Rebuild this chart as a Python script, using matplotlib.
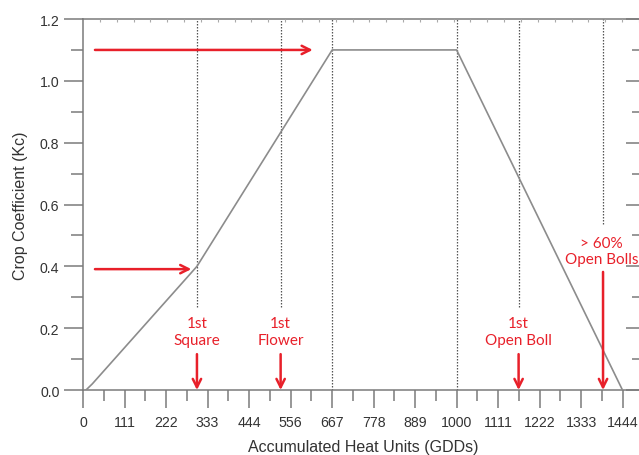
import matplotlib.pyplot as plt
import numpy as np

# Kc curve (GDD vs crop coefficient)
gdd = [8, 25, 305, 667, 1000, 1444]
kc = [0.0, 0.02, 0.4, 1.1, 1.1, 0.0]

# x tick positions and labels
xtick_pos = [i * 1000 / 9 for i in range(14)]
xtick_lab = ["0", "111", "222", "333", "444", "556", "667", "778", "889",
             "1000", "1111", "1222", "1333", "1444"]

# dotted stage lines: x position, lower end
stage_x = [305, 529, 667, 1000, 1166, 1392]
stage_ymin = [0.268, 0.268, 0.0, 0.0, 0.268, 0.537]

# stage labels
labels = ["1st\nSquare", "1st\nFlower", "1st\nOpen Boll", "> 60%\nOpen Bolls"]
label_x = [305, 529, 1166, 1388]
label_y = [0.19, 0.19, 0.19, 0.45]
arrow_x = [305, 529, 1166, 1392]
arrow_top = [0.116, 0.116, 0.116, 0.382]

red = "#e8202a"
axis_col = "#7a7a7a"
text_col = "#333333"

fig = plt.figure(figsize=(6.39, 4.56), dpi=100)
ax = fig.add_axes([0.1299, 0.1425, 0.8717, 0.8136])
ax.set_xlim(0, 1491)
ax.set_ylim(0, 1.2)

ax.plot(gdd, kc, color="#8c8c8c", lw=1.2, zorder=3)

for x, y0 in zip(stage_x, stage_ymin):
    ax.plot([x, x], [y0, 1.2], color="#555555", lw=0.9, linestyle=(0, (1.2, 1.2)), zorder=2)

# horizontal red arrows
ax.annotate("", xy=(615, 1.1), xytext=(32, 1.1),
            arrowprops=dict(arrowstyle="->,head_length=0.6,head_width=0.3", color=red, lw=1.8,
                            shrinkA=0, shrinkB=0))
ax.annotate("", xy=(290, 0.391), xytext=(32, 0.391),
            arrowprops=dict(arrowstyle="->,head_length=0.6,head_width=0.3", color=red, lw=1.8,
                            shrinkA=0, shrinkB=0))

for x, yt in zip(arrow_x, arrow_top):
    ax.annotate("", xy=(x, 0.0), xytext=(x, yt),
                arrowprops=dict(arrowstyle="->,head_length=0.6,head_width=0.3", color=red, lw=1.8,
                                shrinkA=0, shrinkB=0), zorder=4)

for t, x, y in zip(labels, label_x, label_y):
    ax.text(x, y, t, color=red, ha="center", va="center", fontsize=11,
            family="Lato", linespacing=1.25)

# spines and ticks
for s in ["left", "bottom", "top"]:
    ax.spines[s].set_color(axis_col)
    ax.spines[s].set_linewidth(1.1)
ax.spines["right"].set_visible(False)

ax.set_xticks(xtick_pos)
ax.set_xticklabels(xtick_lab)
ax.set_xticks([p + 500 / 9 for p in xtick_pos[:-1]], minor=True)
ax.set_yticks(np.arange(0, 1.21, 0.2))
ax.set_yticklabels(["0.0", "0.2", "0.4", "0.6", "0.8", "1.0", "1.2"])
ax.set_yticks(np.arange(0.1, 1.2, 0.2), minor=True)

ax.tick_params(axis="x", which="major", direction="out", length=13, width=1.1,
               color=axis_col, pad=5, labelsize=10.2, labelcolor=text_col)
ax.tick_params(axis="x", which="minor", direction="out", length=8, width=1.1, color=axis_col)
ax.tick_params(axis="y", which="major", direction="out", length=14, width=1.1,
               color=axis_col, pad=3, labelsize=10.2, labelcolor=text_col)
ax.tick_params(axis="y", which="minor", direction="out", length=9, width=1.1, color=axis_col)
for lab in ax.get_xticklabels() + ax.get_yticklabels():
    lab.set_family("Liberation Sans")

# right side inward ticks
ax_r = ax.twinx()
ax_r.set_ylim(0, 1.2)
for s in ax_r.spines.values():
    s.set_visible(False)
ax_r.set_yticks(np.arange(0, 1.21, 0.2))
ax_r.set_yticks(np.arange(0.1, 1.2, 0.2), minor=True)
ax_r.set_yticklabels([])
ax_r.tick_params(axis="y", which="major", direction="in", length=10, width=1.1, color=axis_col)
ax_r.tick_params(axis="y", which="minor", direction="in", length=6, width=1.1, color=axis_col)

# tiny ticks on top
ax_t = ax.twiny()
ax_t.set_xlim(0, 1491)
for s in ax_t.spines.values():
    s.set_visible(False)
ax_t.set_xticks(np.arange(45, 1491, 45.1))
ax_t.set_xticklabels([])
ax_t.tick_params(axis="x", direction="in", length=2, width=0.8, color="#aaaaaa")

ax.set_xlabel("Accumulated Heat Units (GDDs)", fontsize=11.5, color=text_col,
              family="Liberation Sans")
ax.set_ylabel("Crop Coefficient (Kc)", fontsize=11.5, color=text_col,
              family="Liberation Sans")
ax.xaxis.set_label_coords(0.503, -0.151)
ax.xaxis.label.set_va("center")
ax.yaxis.set_label_coords(-0.113, 0.5)
ax.yaxis.label.set_va("center")

fig.savefig("out.png", dpi=100)
